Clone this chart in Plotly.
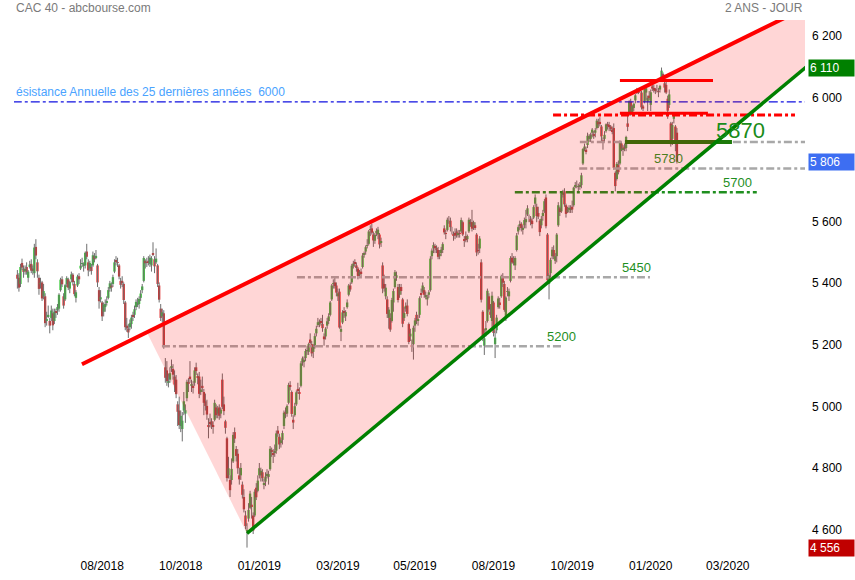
"""
CAC 40 - graphique 2 ans en chandeliers avec canal haussier et niveaux
"""
import plotly.graph_objects as go

# séances du 30/05/2018 au 31/01/2020 (une ligne par mois)
OPEN = [
    5440, 5430,
    5410, 5478, 5460, 5455, 5465, 5430, 5465, 5475, 5460, 5445, 5530, 5480, 5430, 5410, 5415, 5370, 5370, 5290, 5305, 5290, 5300,
    5315, 5290, 5320, 5325, 5330, 5390, 5425, 5370, 5360, 5410, 5425, 5395, 5425, 5440, 5410, 5365, 5405, 5435, 5460, 5475, 5470, 5470,
    5515, 5480, 5460, 5465, 5470, 5500, 5495, 5470, 5390, 5360, 5350, 5320, 5335, 5350, 5365, 5395, 5405, 5410, 5450, 5485, 5480, 5470, 5420,
    5420, 5410, 5350, 5275, 5265, 5270, 5280, 5310, 5310, 5335, 5345, 5345, 5365, 5390, 5420, 5485, 5480, 5485, 5475, 5470,
    5510, 5490, 5480, 5470, 5405, 5330, 5305, 5315, 5140, 5130, 5090, 5100, 5140, 5135, 5110, 5100, 5020, 5000, 4950, 4940, 5000, 4990, 5040,
    5090, 5110, 5080, 5080, 5090, 5140, 5110, 5110, 5060, 5080, 5060, 5030, 5015, 4950, 4960, 4965, 4950, 4970, 5010, 4990, 5010, 4990,
    5100, 5020, 4965, 4910, 4790, 4775, 4775, 4835, 4930, 4875, 4860, 4790, 4790, 4760, 4720, 4660, 4610, 4650, 4685,
    4695, 4660, 4660, 4750, 4740, 4790, 4790, 4800, 4760, 4770, 4790, 4785, 4810, 4870, 4860, 4865, 4870, 4935, 4915, 4895, 4905, 4950,
    4995, 4990, 5025, 5080, 5060, 4970, 4985, 5020, 5070, 5060, 5080, 5155, 5160, 5170, 5195, 5190, 5230, 5215, 5190, 5210,
    5250, 5280, 5280, 5290, 5280, 5240, 5240, 5275, 5290, 5310, 5360, 5410, 5415, 5405, 5370, 5385, 5255, 5285, 5320, 5305, 5335,
    5375, 5405, 5415, 5470, 5480, 5470, 5460, 5440, 5450, 5465, 5505, 5515, 5535, 5540, 5585, 5590, 5570, 5550, 5575, 5570,
    5570, 5545, 5470, 5410, 5370, 5360, 5300, 5300, 5290, 5350, 5400, 5430, 5400, 5375, 5400, 5360, 5300, 5330, 5340, 5280, 5240, 5210,
    5215, 5275, 5310, 5290, 5310, 5380, 5385, 5390, 5370, 5360, 5375, 5390, 5500, 5525, 5530, 5525, 5520, 5500, 5510, 5520,
    5590, 5575, 5585, 5620, 5615, 5585, 5570, 5575, 5580, 5570, 5575, 5580, 5610, 5555, 5565, 5555, 5580, 5610, 5610, 5595, 5600, 5570, 5520,
    5525, 5480, 5320, 5210, 5260, 5290, 5370, 5320, 5290, 5350, 5215, 5260, 5335, 5350, 5370, 5430, 5410, 5300, 5385, 5370, 5420, 5495,
    5485, 5470, 5520, 5580, 5600, 5605, 5585, 5600, 5610, 5635, 5620, 5620, 5615, 5625, 5670, 5660, 5640, 5615, 5600, 5630, 5645,
    5690, 5570, 5410, 5445, 5500, 5520, 5485, 5500, 5600, 5655, 5645, 5700, 5710, 5665, 5645, 5650, 5650, 5660, 5665, 5725, 5735, 5725, 5725,
    5730, 5800, 5850, 5845, 5860, 5880, 5880, 5900, 5895, 5900, 5915, 5935, 5935, 5920, 5875, 5880, 5905, 5925, 5925, 5920, 5910,
    5915, 5770, 5750, 5795, 5800, 5865, 5845, 5855, 5850, 5930, 5960, 6000, 5965, 5980, 6005, 6030, 6035, 6040, 6030, 5985,
    6000, 6030, 6000, 6020, 5990, 6050, 6045, 6040, 6040, 6035, 6040, 6070, 6090, 6060, 6055, 6010, 5990, 5930, 5880, 5945, 5920, 5900,
]
HIGH = [
    5455, 5445,
    5475, 5492, 5470, 5470, 5480, 5455, 5485, 5490, 5470, 5540, 5555, 5490, 5440, 5430, 5420, 5410, 5380, 5320, 5340, 5300, 5340,
    5330, 5330, 5330, 5345, 5380, 5430, 5435, 5380, 5410, 5435, 5430, 5420, 5450, 5445, 5420, 5390, 5440, 5445, 5490, 5495, 5480, 5515,
    5540, 5490, 5485, 5475, 5515, 5510, 5520, 5475, 5400, 5390, 5355, 5350, 5360, 5370, 5400, 5420, 5415, 5440, 5490, 5500, 5495, 5475, 5430,
    5435, 5415, 5355, 5300, 5280, 5295, 5310, 5320, 5340, 5360, 5365, 5370, 5390, 5410, 5500, 5490, 5495, 5500, 5505, 5500,
    5545, 5500, 5525, 5475, 5415, 5345, 5330, 5325, 5170, 5160, 5120, 5140, 5165, 5150, 5130, 5115, 5030, 5045, 5000, 4995, 5060, 5020, 5100,
    5105, 5160, 5100, 5095, 5140, 5155, 5120, 5125, 5100, 5110, 5070, 5055, 5035, 4975, 4990, 4975, 4965, 5035, 5020, 5015, 5020, 5010,
    5120, 5045, 4970, 4915, 4850, 4790, 4845, 4930, 4945, 4885, 4875, 4815, 4830, 4770, 4745, 4675, 4635, 4700, 4740,
    4720, 4670, 4745, 4765, 4790, 4830, 4815, 4810, 4780, 4800, 4810, 4805, 4885, 4880, 4875, 4890, 4935, 4950, 4925, 4910, 4935, 5000,
    5010, 5020, 5090, 5095, 5065, 4985, 5025, 5065, 5090, 5075, 5160, 5175, 5175, 5200, 5210, 5220, 5250, 5225, 5215, 5250,
    5275, 5300, 5295, 5300, 5310, 5250, 5270, 5300, 5315, 5355, 5410, 5425, 5430, 5415, 5395, 5395, 5275, 5325, 5335, 5325, 5360,
    5410, 5415, 5475, 5485, 5490, 5480, 5465, 5455, 5460, 5510, 5515, 5535, 5555, 5585, 5600, 5605, 5580, 5575, 5590, 5595,
    5575, 5560, 5480, 5440, 5410, 5370, 5335, 5315, 5365, 5395, 5455, 5450, 5410, 5410, 5410, 5365, 5335, 5350, 5360, 5285, 5265, 5230,
    5275, 5300, 5320, 5310, 5370, 5395, 5415, 5400, 5385, 5375, 5390, 5500, 5525, 5545, 5540, 5535, 5530, 5520, 5530, 5545,
    5600, 5585, 5625, 5630, 5625, 5595, 5580, 5590, 5590, 5585, 5585, 5625, 5615, 5565, 5580, 5570, 5625, 5620, 5650, 5615, 5610, 5575, 5540,
    5565, 5490, 5325, 5265, 5290, 5395, 5380, 5345, 5385, 5355, 5260, 5310, 5370, 5365, 5440, 5445, 5420, 5370, 5400, 5395, 5500, 5510,
    5500, 5500, 5575, 5600, 5615, 5610, 5600, 5625, 5650, 5665, 5635, 5630, 5625, 5665, 5700, 5670, 5660, 5620, 5630, 5650, 5685,
    5700, 5575, 5445, 5495, 5530, 5535, 5510, 5575, 5675, 5660, 5710, 5715, 5720, 5670, 5660, 5665, 5665, 5680, 5725, 5740, 5745, 5735, 5740,
    5770, 5850, 5865, 5855, 5900, 5895, 5900, 5915, 5905, 5915, 5945, 5945, 5950, 5925, 5885, 5905, 5930, 5935, 5935, 5925, 5920,
    5930, 5775, 5805, 5810, 5875, 5870, 5860, 5865, 5890, 5955, 6005, 6010, 5990, 5995, 6025, 6045, 6040, 6045, 6035, 5990,
    6045, 6050, 6020, 6035, 6040, 6060, 6055, 6045, 6055, 6045, 6055, 6111, 6095, 6070, 6070, 6020, 6040, 5935, 5935, 5965, 5925, 5915,
]
LOW = [
    5395, 5385,
    5400, 5455, 5430, 5440, 5440, 5415, 5460, 5445, 5440, 5430, 5490, 5430, 5375, 5395, 5355, 5360, 5270, 5275, 5300, 5250, 5290,
    5260, 5280, 5300, 5310, 5320, 5385, 5400, 5330, 5355, 5400, 5390, 5380, 5415, 5405, 5370, 5350, 5400, 5410, 5455, 5465, 5450, 5460,
    5490, 5435, 5450, 5440, 5465, 5480, 5490, 5400, 5330, 5350, 5290, 5305, 5320, 5340, 5360, 5385, 5385, 5400, 5445, 5470, 5465, 5425, 5395,
    5400, 5345, 5260, 5255, 5235, 5260, 5265, 5290, 5300, 5325, 5335, 5330, 5355, 5380, 5415, 5460, 5465, 5470, 5465, 5450,
    5500, 5445, 5475, 5400, 5350, 5290, 5285, 5200, 5090, 5080, 5075, 5090, 5125, 5100, 5060, 5040, 4950, 4940, 4930, 4900, 4985, 4960, 5030,
    5060, 5090, 5060, 5055, 5080, 5115, 5085, 5040, 5050, 5060, 4985, 5000, 4970, 4910, 4945, 4940, 4925, 4965, 4975, 4975, 4970, 4975,
    5005, 4985, 4925, 4770, 4780, 4720, 4760, 4830, 4895, 4835, 4795, 4760, 4775, 4715, 4670, 4615, 4556, 4640, 4680,
    4650, 4600, 4655, 4710, 4735, 4780, 4770, 4770, 4745, 4755, 4780, 4760, 4805, 4850, 4830, 4850, 4860, 4915, 4875, 4880, 4890, 4940,
    4975, 4980, 5020, 5065, 4980, 4940, 4980, 5015, 5055, 5035, 5075, 5145, 5140, 5160, 5180, 5180, 5215, 5175, 5170, 5200,
    5240, 5270, 5270, 5275, 5255, 5210, 5230, 5265, 5280, 5305, 5355, 5395, 5395, 5370, 5355, 5265, 5225, 5280, 5300, 5290, 5330,
    5370, 5385, 5410, 5460, 5465, 5450, 5425, 5430, 5435, 5460, 5495, 5505, 5525, 5535, 5565, 5570, 5530, 5540, 5565, 5555,
    5525, 5530, 5380, 5385, 5360, 5300, 5265, 5255, 5285, 5320, 5395, 5420, 5350, 5365, 5375, 5270, 5290, 5320, 5305, 5215, 5225, 5190,
    5165, 5255, 5280, 5275, 5300, 5365, 5380, 5365, 5360, 5340, 5365, 5385, 5490, 5510, 5510, 5510, 5490, 5490, 5500, 5510,
    5570, 5555, 5580, 5605, 5580, 5570, 5550, 5555, 5560, 5560, 5560, 5575, 5565, 5530, 5545, 5545, 5575, 5595, 5580, 5585, 5585, 5500, 5505,
    5510, 5350, 5225, 5180, 5240, 5285, 5320, 5300, 5270, 5240, 5170, 5250, 5330, 5330, 5365, 5400, 5320, 5290, 5370, 5355, 5415, 5475,
    5470, 5455, 5515, 5570, 5585, 5580, 5570, 5590, 5590, 5630, 5610, 5600, 5590, 5620, 5660, 5610, 5620, 5565, 5590, 5615, 5640,
    5590, 5415, 5360, 5430, 5490, 5490, 5475, 5480, 5595, 5630, 5640, 5690, 5660, 5625, 5640, 5640, 5640, 5640, 5660, 5720, 5720, 5710, 5715,
    5720, 5795, 5840, 5830, 5850, 5870, 5870, 5885, 5880, 5885, 5910, 5915, 5920, 5870, 5845, 5870, 5900, 5910, 5905, 5905, 5895,
    5780, 5710, 5745, 5765, 5795, 5840, 5825, 5840, 5840, 5905, 5955, 5955, 5960, 5970, 5995, 6025, 6025, 6030, 5975, 5970,
    5995, 6005, 5970, 6005, 5970, 6035, 6030, 6025, 6030, 6015, 6030, 6065, 6070, 6030, 6025, 5945, 5980, 5855, 5860, 5930, 5840, 5800,
]
CLOSE = [
    5427, 5398,
    5465, 5463, 5449, 5457, 5448, 5450, 5473, 5453, 5452, 5528, 5502, 5451, 5394, 5411, 5363, 5387, 5283, 5294, 5310, 5275, 5324,
    5276, 5320, 5318, 5335, 5375, 5424, 5409, 5340, 5406, 5429, 5398, 5416, 5441, 5416, 5377, 5383, 5434, 5425, 5469, 5476, 5472, 5511,
    5498, 5454, 5478, 5452, 5503, 5490, 5501, 5415, 5354, 5367, 5305, 5343, 5345, 5354, 5390, 5412, 5398, 5432, 5480, 5484, 5479, 5434, 5407,
    5414, 5358, 5270, 5266, 5253, 5283, 5301, 5303, 5328, 5352, 5348, 5362, 5379, 5402, 5494, 5477, 5479, 5478, 5495, 5493,
    5507, 5467, 5492, 5410, 5359, 5300, 5318, 5206, 5106, 5095, 5095, 5121, 5144, 5116, 5084, 5053, 4996, 4953, 4983, 4967, 5030, 5001, 5093,
    5086, 5102, 5085, 5075, 5130, 5128, 5107, 5054, 5068, 5076, 5025, 5015, 4987, 4948, 4959, 4952, 4947, 5025, 4985, 5006, 4983, 5003,
    5012, 4998, 4944, 4781, 4813, 4742, 4811, 4921, 4909, 4853, 4813, 4777, 4814, 4727, 4680, 4626, 4612, 4678, 4731,
    4690, 4611, 4737, 4719, 4773, 4813, 4805, 4781, 4763, 4786, 4795, 4794, 4876, 4867, 4858, 4866, 4926, 4925, 4890, 4904, 4927, 4993,
    4990, 5015, 5083, 5079, 4989, 4961, 5014, 5059, 5063, 5055, 5153, 5169, 5164, 5193, 5196, 5215, 5219, 5185, 5206, 5241,
    5265, 5286, 5288, 5284, 5267, 5231, 5265, 5289, 5305, 5350, 5405, 5412, 5403, 5382, 5380, 5269, 5264, 5318, 5318, 5319, 5350,
    5405, 5392, 5469, 5476, 5476, 5464, 5436, 5448, 5445, 5502, 5508, 5529, 5536, 5580, 5587, 5576, 5551, 5569, 5582, 5586,
    5538, 5548, 5395, 5396, 5398, 5313, 5327, 5262, 5358, 5387, 5448, 5438, 5358, 5400, 5387, 5281, 5316, 5339, 5313, 5222, 5249, 5207,
    5268, 5292, 5290, 5296, 5364, 5375, 5405, 5375, 5374, 5367, 5383, 5492, 5518, 5536, 5528, 5522, 5498, 5508, 5521, 5539,
    5577, 5573, 5618, 5620, 5594, 5585, 5566, 5567, 5567, 5572, 5573, 5617, 5570, 5552, 5552, 5565, 5618, 5605, 5589, 5610, 5594, 5512, 5519,
    5557, 5359, 5241, 5234, 5267, 5388, 5327, 5310, 5372, 5251, 5236, 5301, 5363, 5345, 5435, 5414, 5326, 5366, 5387, 5386, 5494, 5480,
    5479, 5494, 5567, 5594, 5604, 5591, 5592, 5617, 5620, 5655, 5620, 5611, 5604, 5659, 5690, 5630, 5628, 5578, 5621, 5640, 5678,
    5597, 5422, 5438, 5488, 5521, 5499, 5500, 5570, 5665, 5643, 5703, 5703, 5668, 5637, 5648, 5657, 5656, 5651, 5722, 5730, 5735, 5726, 5730,
    5762, 5847, 5855, 5839, 5890, 5889, 5894, 5910, 5891, 5908, 5939, 5927, 5930, 5888, 5869, 5893, 5927, 5923, 5918, 5914, 5905,
    5786, 5727, 5799, 5772, 5871, 5848, 5851, 5848, 5886, 5919, 6001, 5959, 5986, 5994, 6021, 6037, 6030, 6037, 5982, 5978,
    6041, 6044, 6013, 6012, 6031, 6043, 6037, 6036, 6040, 6033, 6051, 6101, 6079, 6046, 6030, 5971, 6024, 5863, 5925, 5954, 5871, 5806,
]

# libellés de l'axe des dates (index de séance)
TICK_BARS = [55, 106, 157, 208, 258, 309, 360, 411, 461]
TICK_TEXT = ['08/2018', '10/2018', '01/2019', '03/2019', '05/2019',
             '08/2019', '10/2019', '01/2020', '03/2020']
PRICE_TICKS = [4600, 4800, 5000, 5200, 5400, 5600, 6000, 6200]

# droites tracées sur le graphique (index de séance, cours)
RES_X = [41.9, 515]
RES_Y = [5150, 6314]
SUP_X = [149, 515]
SUP_Y = [4602, 6126]
WEDGE_X = [83.9, 515, 515, 149]
WEDGE_Y = [5254, 6314, 6126, 4602]

# niveaux horizontaux
RESISTANCE_25ANS = 6000
LEVEL_HIGH = 6069
LEVEL_RED = 5963
LEVEL_RED_DASH = 5957
LEVEL_5870 = 5870
LEVEL_5780 = 5784
LEVEL_5700 = 5707
LEVEL_5450 = 5432
LEVEL_5200 = 5208

# étiquettes de cours à droite
FLAG_VALUES = [6110, 5806, 4556]
FLAG_COLORS = ['#008000', '#3d6ef2', '#c00000']

FONT = 'Liberation Sans, Arial, sans-serif'
GREEN_UP = '#34c934'
RED_DOWN = '#e02626'

n = len(CLOSE)
assert len(OPEN) == n and len(HIGH) == n and len(LOW) == n, (len(OPEN), len(HIGH), len(LOW), n)
x = list(range(n))

fig = go.Figure()

# mèches
wick_x, wick_y = [], []
for i in x:
    wick_x += [i, i, None]
    wick_y += [LOW[i], HIGH[i], None]
fig.add_trace(go.Scatter(x=wick_x, y=wick_y, mode='lines',
                         line=dict(color='#6e6e6e', width=1), hoverinfo='skip'))

# corps des bougies
body_base = [min(o, c) for o, c in zip(OPEN, CLOSE)]
body_size = [abs(c - o) for o, c in zip(OPEN, CLOSE)]
body_color = [GREEN_UP if c >= o else RED_DOWN for o, c in zip(OPEN, CLOSE)]
fig.add_trace(go.Bar(x=x, y=body_size, base=body_base, width=1.5,
                     marker=dict(color=body_color, line=dict(width=0)), hoverinfo='skip'))


def hline(level, x0, x1, color, width, dash):
    fig.add_trace(go.Scatter(x=[x0, x1], y=[level, level], mode='lines',
                             line=dict(color=color, width=width, dash=dash), hoverinfo='skip'))


DD = '8px,3px,3px,3px'
hline(RESISTANCE_25ANS, -3, 512, '#1010e0', 1.2, 'dashdot')
hline(LEVEL_5200, 93.8, 353.4, '#a8a8a8', 2.5, DD)
hline(LEVEL_5450, 181.4, 410.5, '#a8a8a8', 2.5, DD)
hline(LEVEL_5700, 322.8, 479.8, '#1f8f1f', 2.5, DD)
hline(LEVEL_5780, 364.6, 512, '#a8a8a8', 2.5, DD)
hline(LEVEL_5870, 365, 512, '#a8a8a8', 2.5, DD)
hline(LEVEL_5870, 394.3, 463.7, '#1e7a0a', 4, 'solid')
hline(LEVEL_RED_DASH, 347.6, 504.6, '#ff0000', 3, DD)
hline(LEVEL_RED, 391, 448.1, '#ff0000', 3, 'solid')
hline(LEVEL_HIGH, 391, 451.4, '#ff0000', 3, 'solid')

# zone du canal (voile rose translucide)
fig.add_trace(go.Scatter(x=WEDGE_X + [WEDGE_X[0]], y=WEDGE_Y + [WEDGE_Y[0]],
                         mode='lines', fill='toself', fillcolor='rgba(255,0,0,0.16)',
                         line=dict(width=0), hoverinfo='skip'))

# droites de tendance
fig.add_trace(go.Scatter(x=RES_X, y=RES_Y, mode='lines',
                         line=dict(color='#ff0000', width=4), hoverinfo='skip'))
fig.add_trace(go.Scatter(x=SUP_X, y=SUP_Y, mode='lines',
                         line=dict(color='#008000', width=3.5), hoverinfo='skip'))

annotations = [
    dict(text='CAC 40 - abcbourse.com', xref='paper', yref='paper', x=0, y=1,
         xanchor='left', yanchor='bottom', yshift=3, font=dict(color='#7a7a7a', size=12)),
    dict(text='2 ANS - JOUR', xref='paper', yref='paper', x=1, y=1,
         xanchor='right', yanchor='bottom', yshift=3, font=dict(color='#7a7a7a', size=12)),
    dict(text='ésistance Annuelle des 25 dernières années  6000', xref='paper', yref='y',
         x=0, y=RESISTANCE_25ANS, xanchor='left', yanchor='bottom', yshift=1,
         font=dict(color='#4aa3ff', size=12)),
    dict(text='5870', x=469, y=LEVEL_5870, yanchor='bottom', yshift=-3,
         font=dict(color='#1a8c1a', size=22)),
    dict(text='5780', x=422.8, y=LEVEL_5780, yanchor='bottom', yshift=0,
         font=dict(color='#4d7d1e', size=13)),
    dict(text='5700', x=467, y=LEVEL_5700, yanchor='bottom', yshift=0,
         font=dict(color='#1f8f1f', size=13)),
    dict(text='5450', x=402, y=LEVEL_5450, yanchor='bottom', yshift=0,
         font=dict(color='#1f8f1f', size=13)),
    dict(text='5200', x=353.4, y=LEVEL_5200, yanchor='bottom', yshift=0,
         font=dict(color='#1f8f1f', size=13)),
]
for value, color in zip(FLAG_VALUES, FLAG_COLORS):
    annotations.append(dict(
        text=f'{value:,}'.replace(',', ' '), xref='paper', yref='y', x=1, y=value,
        xanchor='left', yanchor='middle', xshift=3, width=43, align='left',
        bgcolor=color, borderpad=1, font=dict(color='white', size=12)))
for a in annotations:
    a['showarrow'] = False

fig.update_layout(
    width=855, height=580,
    margin=dict(l=14, r=50, t=20, b=29),
    paper_bgcolor='white', plot_bgcolor='white',
    showlegend=False, hovermode=False,
    separators='. ',
    font=dict(family=FONT, size=12, color='black'),
    annotations=annotations,
    xaxis=dict(range=[-2.2, 511.1], tickvals=TICK_BARS, ticktext=TICK_TEXT,
               showgrid=False, zeroline=False, showline=False, ticks='',
               ticklabelstandoff=6, automargin=False),
    yaxis=dict(range=[4545, 6265], side='right', tickvals=PRICE_TICKS, tickformat=',d',
               showgrid=False, zeroline=False, showline=False, ticks='',
               ticklabelshift=-4, ticklabelstandoff=6, automargin=False),
)

# la page n'ajoute pas de marge autour de la figure, sans barre d'outils
fig.write_html('out.html', config={'displayModeBar': False},
               post_script="document.body.style.margin = '0';")
